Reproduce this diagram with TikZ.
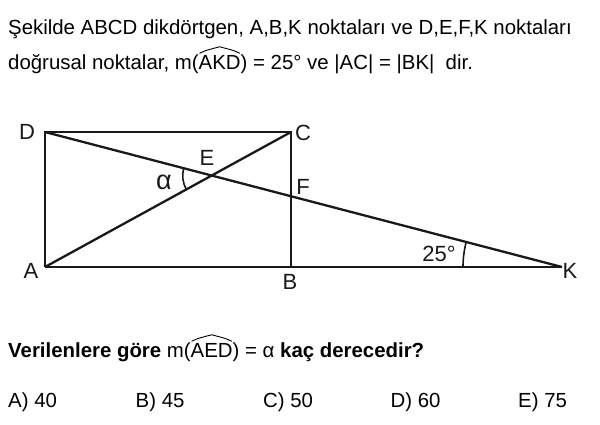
\documentclass[tikz,border=0pt]{standalone}
\usepackage{fontspec}
\setmainfont{Liberation Sans}
% wide hat over a group of letters
\newcommand{\archat}[1]{\tikz[baseline=(w.base), x=1pt, y=1pt]{%
  \node[inner sep=0pt] (w) {#1};
  \draw[line width=0.9pt, line join=round]
    ([xshift=1pt, yshift=1.5pt]w.north west) .. controls ([xshift=6pt, yshift=4pt]w.north west) .. ([yshift=8pt]w.north)
    .. controls ([xshift=-6pt, yshift=4pt]w.north east) .. ([xshift=-1pt, yshift=1.5pt]w.north east);}}
\begin{document}
\begin{tikzpicture}[x=1pt, y=-1pt,
  side/.style={line width=2.6pt, black!90},
  diag/.style={line width=2.3pt, black!90},
  ang/.style={line width=1.6pt, black!90},
  lbl/.style={font=\fontsize{22}{24}\selectfont, inner sep=0pt, text=black!90},
  txt/.style={font=\fontsize{20.4}{24}\selectfont, anchor=base west, inner sep=0pt},
]
\useasboundingbox (0,0) rectangle (600,424);
% Question text
\node[txt] (q1) at (8,34) {Şekilde ABCD dikdörtgen, A,B,K noktaları ve D,E,F,K noktaları};
\node[txt] (q2) at (8,69) {doğrusal noktalar, m(\archat{AKD}) = 25° ve |AC| = |BK|\ \ dir.};
% Corners
\coordinate (D) at (45,132);
\coordinate (C) at (291,132);
\coordinate (A) at (45,267);
\coordinate (B) at (291,267);
\coordinate (K) at (562,267);
\coordinate (E) at (intersection of D--K and A--C);
\coordinate (F) at (intersection of D--K and B--C);
% Rectangle and lines
\draw[side] (A) -- (D) -- (C) -- (B);
\draw[side] (A) -- (K);
\draw[diag] (A) -- (C);
\draw[diag] (D) -- (K);
% Angles
\draw[ang] (E) ++(151.2:29) arc[start angle=151.2, end angle=194.6, radius=29];
\draw[ang] (K) ++(180:99) arc[start angle=180, end angle=194.6, radius=99];
% Point labels
\node[lbl] (lD) at (27,132) {D};
\node[lbl] (lC) at (303,133) {C};
\node[lbl] (lE) at (207,158) {E};
\node[lbl, font=\fontsize{27}{28}\selectfont] (la) at (164,182) {α};
\node[lbl] (lF) at (303,187) {F};
\node[lbl] (lA) at (31,271) {A};
\node[lbl] (lB) at (290,282) {B};
\node[lbl] (lK) at (570,271) {K};
\node[lbl] (l25) at (439,254) {25°};
% Question
\node[txt] (q3) at (8,357) {\textbf{Verilenlere göre} m(\archat{AED}) = α \textbf{kaç derecedir?}};
% Choices
\foreach \c/\v [count=\i from 0] in {A/40,B/45,C/50,D/60,E/75}
  \node[txt] (ch\c) at (8+\i*127.5,407) {\c) \v};
\end{tikzpicture}
\end{document}
